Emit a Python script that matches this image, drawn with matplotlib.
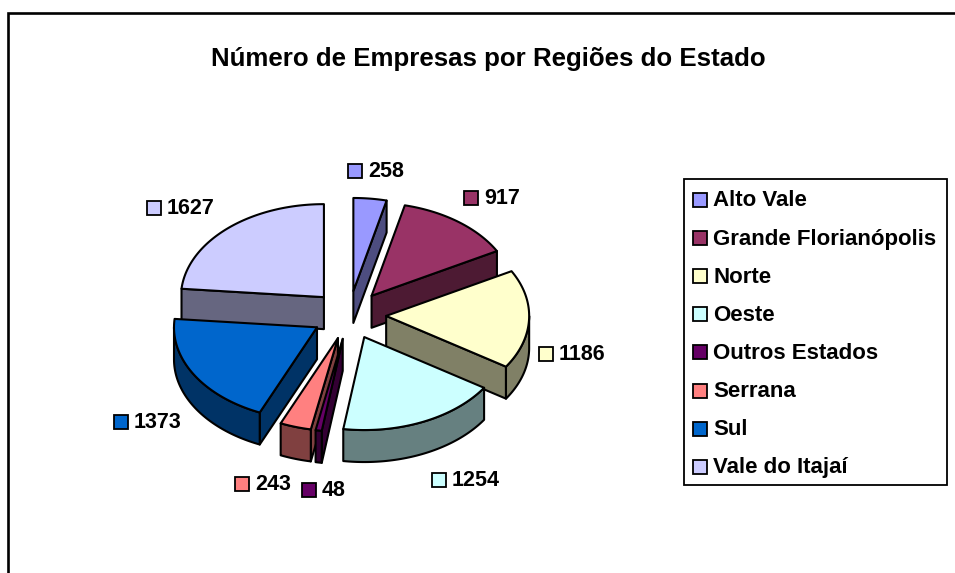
import matplotlib
matplotlib.use("Agg")
import matplotlib.pyplot as plt
import numpy as np
from matplotlib.colors import to_rgb
from matplotlib.patches import Polygon, Rectangle

plt.rcParams['font.family'] = ['Liberation Sans', 'DejaVu Sans']

regioes = ['Alto Vale', 'Grande Florianópolis', 'Norte', 'Oeste',
           'Outros Estados', 'Serrana', 'Sul', 'Vale do Itajaí']
empresas = [258, 917, 1186, 1254, 48, 243, 1373, 1627]
cores = ['#9999FF', '#993366', '#FFFFCC', '#CCFFFF',
         '#660066', '#FF8080', '#0066CC', '#CCCCFF']

# onde fica cada rotulo (quadradinho) na figura
pos_rotulos = [(355, 171), (471, 198), (546, 354), (439, 480),
               (309, 490), (242, 484), (121, 422), (154, 208)]

cx, cy = 349, 315
rx, ry = 143, 93
altura = 32
explode = 0.26
lw = 1.5


def ponto(ang, r=1.0, dx=0, dy=0):
    a = np.radians(ang)
    return cx + dx + rx * r * np.sin(a), cy + dy - ry * r * np.cos(a)


fig = plt.figure(figsize=(9.55, 5.73), dpi=100)
ax = fig.add_axes([0, 0, 1, 1])
ax.set_xlim(0, 955)
ax.set_ylim(573, 0)
ax.axis('off')

# moldura
ax.plot([8, 8, 955], [573, 13, 13], color='black', lw=1.9,
        solid_joinstyle='miter')

ax.text(488.5, 59, 'Número de Empresas por Regiões do Estado', fontsize=18.6,
        fontweight='bold', ha='center', va='center')

total = sum(empresas)
fim = np.cumsum(empresas) / total * 360
inicio = np.concatenate([[0], fim[:-1]])
meio = (inicio + fim) / 2

# fatias de tras para frente
for i in np.argsort(-np.cos(np.radians(meio))):
    a0, a1, am = inicio[i], fim[i], meio[i]
    dx, dy = ponto(am, explode)
    dx, dy = dx - cx, dy - cy
    tip = (cx + dx, cy + dy)
    lado = tuple(np.array(to_rgb(cores[i])) * 0.5)

    # paredes visiveis
    paredes = []
    if np.sin(np.radians(a0)) < 0:
        paredes.append(a0)
    if np.sin(np.radians(a1)) > 0:
        paredes.append(a1)
    for p in paredes:
        x, y = ponto(p, 1, dx, dy)
        ax.add_patch(Polygon([tip, (x, y), (x, y + altura), (tip[0], tip[1] + altura)],
                             closed=True, fc=lado, ec='black', lw=lw, joinstyle='round'))

    # borda externa, so a parte da frente
    b0, b1 = max(a0, 90), min(a1, 270)
    if b1 > b0:
        angs = np.linspace(b0, b1, 60)
        cima = [ponto(t, 1, dx, dy) for t in angs]
        baixo = [(x, y + altura) for x, y in cima][::-1]
        ax.add_patch(Polygon(cima + baixo, closed=True, fc=lado, ec='black',
                             lw=lw, joinstyle='round'))

    # tampo
    angs = np.linspace(a0, a1, 80)
    ax.add_patch(Polygon([tip] + [ponto(t, 1, dx, dy) for t in angs], closed=True,
                         fc=cores[i], ec='black', lw=lw, joinstyle='round'))

# rotulos de dados
for (x, y), v, c in zip(pos_rotulos, empresas, cores):
    ax.plot(x, y, marker='s', ms=9.5, mfc=c, mec='black', mew=1.3)
    ax.text(x + 13, y + 0.5, str(v), fontsize=15.5, fontweight='bold', ha='left', va='center')

# legenda
ax.add_patch(Rectangle((684, 179), 263, 306, fc='white', ec='black', lw=1.3))
for i, (nome, c) in enumerate(zip(regioes, cores)):
    y = 200 + i * 38.1
    ax.plot(699.5, y, marker='s', ms=9.5, mfc=c, mec='black', mew=1.3)
    ax.text(713, y + 1, nome, fontsize=16, fontweight='bold', ha='left', va='center')

plt.savefig('out.png', dpi=100)
